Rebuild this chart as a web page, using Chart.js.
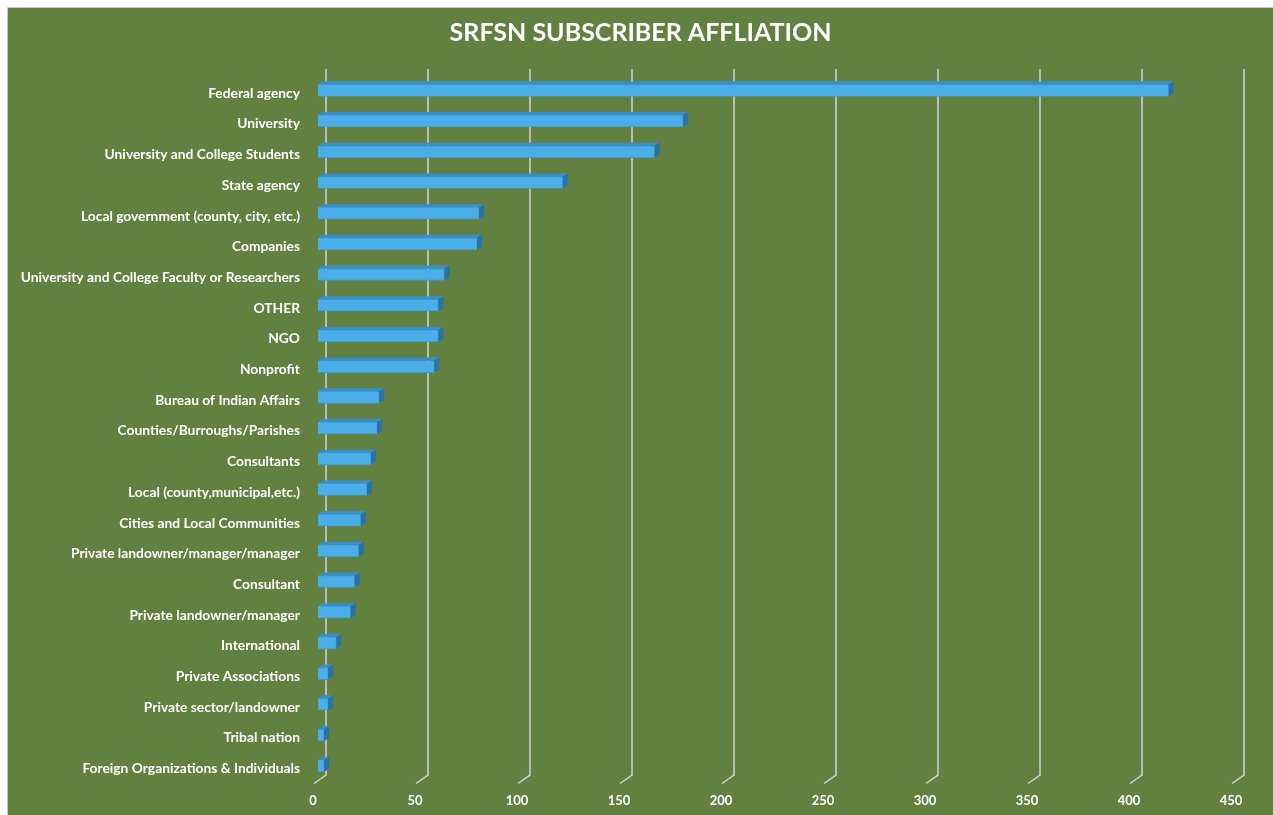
<!DOCTYPE html>
<html lang="en">
<head>
<meta charset="UTF-8">
<title>SRFSN Subscriber Affliation</title>
<script src="https://cdn.jsdelivr.net/npm/chart.js"></script>
<style>
    body {
        margin: 0;
        background-color: #fff;
    }
    #marco {
        position: absolute;
        left: 7px;
        top: 7px;
        border-left: 1px solid #c9c9c9;
        border-top: 1px solid #c9c9c9;
    }
    canvas {
        display: block;
        background-color: #62803f;
    }
</style>
</head>
<body>

<div id="marco"><canvas id="grafico" width="1265" height="807"></canvas></div>

<script>
    const categorias = [
        'Federal agency',
        'University',
        'University and College Students',
        'State agency',
        'Local government (county, city, etc.)',
        'Companies',
        'University and College Faculty or Researchers',
        'OTHER',
        'NGO',
        'Nonprofit',
        'Bureau of Indian Affairs',
        'Counties/Burroughs/Parishes',
        'Consultants',
        'Local (county,municipal,etc.)',
        'Cities and Local Communities',
        'Private landowner/manager/manager',
        'Consultant',
        'Private landowner/manager',
        'International',
        'Private Associations',
        'Private sector/landowner',
        'Tribal nation',
        'Foreign Organizations & Individuals'
    ];
    const suscriptores = [417, 179, 165, 120, 79, 78, 62, 59, 59, 57, 30, 29, 26, 24, 21, 20, 18, 16, 9, 5, 5, 3, 3];
    const ticksX = [0, 50, 100, 150, 200, 250, 300, 350, 400, 450];

    const fuente = 'Lato, "Open Sans", sans-serif';

    // gridlines del "fondo" y caras 3D de las barras
    const efecto3d = {
        id: 'efecto3d',
        beforeDatasetsDraw(chart) {
            const { ctx, chartArea, scales: { x } } = chart;
            ctx.save();
            ctx.strokeStyle = '#d3d3d3';
            ctx.lineWidth = 1.5;
            ticksX.forEach(v => {
                const px = x.getPixelForValue(v) + 8;
                ctx.beginPath();
                ctx.moveTo(px, chartArea.top - 6);
                ctx.lineTo(px, chartArea.bottom - 6);
                ctx.lineTo(px - 12, chartArea.bottom + 2.5);
                ctx.stroke();
            });
            ctx.restore();
        },
        afterDatasetsDraw(chart) {
            const { ctx } = chart;
            const dx = 5, dy = 3;
            ctx.save();
            chart.getDatasetMeta(0).data.forEach(bar => {
                const { x, y, base, height } = bar.getProps(['x', 'y', 'base', 'height'], true);
                const arriba = y - height / 2;
                const abajo = y + height / 2;
                // cara superior
                ctx.fillStyle = '#3a8fca';
                ctx.beginPath();
                ctx.moveTo(base, arriba);
                ctx.lineTo(base + dx, arriba - dy);
                ctx.lineTo(x + dx, arriba - dy);
                ctx.lineTo(x, arriba);
                ctx.closePath();
                ctx.fill();
                // cara lateral
                ctx.fillStyle = '#2b72a6';
                ctx.beginPath();
                ctx.moveTo(x, arriba);
                ctx.lineTo(x + dx, arriba - dy);
                ctx.lineTo(x + dx, abajo - dy);
                ctx.lineTo(x, abajo);
                ctx.closePath();
                ctx.fill();
            });
            ctx.restore();
        }
    };

    const ctx = document.getElementById('grafico').getContext('2d');
    const chart = new Chart(ctx, {
        type: 'bar',
        data: {
            labels: categorias,
            datasets: [{
                data: suscriptores,
                backgroundColor: '#4aafe9',
                borderColor: '#3d9ad6',
                borderWidth: 1,
                barThickness: 12
            }]
        },
        options: {
            indexAxis: 'y',
            responsive: false,
            animation: false,
            devicePixelRatio: 1,
            layout: {
                padding: { top: 0, right: 0, bottom: 7, left: 0 }
            },
            scales: {
                x: {
                    min: 0,
                    max: 450,
                    grid: { display: false, drawTicks: false },
                    border: { display: false },
                    afterFit(scale) {
                        scale.height = 27;
                    },
                    ticks: {
                        stepSize: 50,
                        padding: 12,
                        labelOffset: -5,
                        color: '#ffffff',
                        font: { family: fuente, size: 13, weight: 'bold' }
                    }
                },
                y: {
                    grid: { display: false, drawTicks: false },
                    border: { display: false },
                    afterFit(scale) {
                        scale.width = 310;
                    },
                    ticks: {
                        padding: 18,
                        labelOffset: 3,
                        autoSkip: false,
                        color: '#ffffff',
                        font: { family: fuente, size: 13.8, weight: 'bold' }
                    }
                },
                // eje vacío a la derecha, solo reserva el margen
                derecha: {
                    type: 'linear',
                    axis: 'y',
                    position: 'right',
                    grid: { display: false, drawTicks: false },
                    border: { display: false },
                    ticks: { display: false },
                    afterFit(scale) {
                        scale.width = 37;
                    }
                }
            },
            plugins: {
                legend: { display: false },
                tooltip: { enabled: false },
                title: {
                    display: true,
                    text: 'SRFSN SUBSCRIBER AFFLIATION',
                    color: '#ffffff',
                    font: { family: fuente, size: 25, weight: 'bold' },
                    padding: { top: 10, bottom: 27 }
                }
            }
        },
        plugins: [efecto3d]
    });
</script>

</body>
</html>
